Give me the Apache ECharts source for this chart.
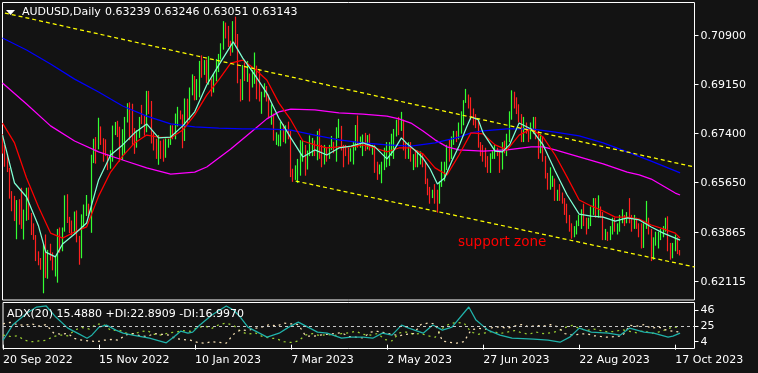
<!DOCTYPE html>
<html><head><meta charset="utf-8">
<script src="https://cdn.jsdelivr.net/npm/echarts@6/dist/echarts.min.js"></script>
<style>html,body{margin:0;padding:0;background:#131313;overflow:hidden}#c{width:758px;height:373px}</style>
</head><body><div id="c"></div>
<script>
// ---- data (prices in 1/10000, i.e. 6712 = 0.6712) ----
const symbolTitle = 'AUDUSD,Daily';
const startDate = [2022, 8, 20];          // 20 Sep 2022, first daily bar
const slotCount = 289;                     // bar slots on the time axis (incl. empty right margin)
const priceTicks = [0.62115, 0.63865, 0.65650, 0.67400, 0.69150, 0.70900];
const adxTicks = [4, 25, 46];
const adxLevel = 25;

const open = [
6712,6683,6628,6608,6521,6485,6436,6486,6462,6403,
6455,6525,6443,6388,6370,6300,6280,6270,6310,6235,
6318,6305,6260,6280,6395,6340,6395,6495,6435,6410,
6400,6425,6370,6300,6440,6478,6480,6455,6640,6700,
6695,6725,6720,6683,6665,6625,6660,6755,6765,6755,
6660,6745,6800,6810,6780,6710,6700,6740,6796,6795,
6780,6865,6850,6715,6705,6700,6715,6700,6665,6705,
6712,6755,6730,6800,6811,6800,6720,6858,6795,6892,
6930,6885,6900,6987,6970,6990,6925,6930,6910,6940,
7000,7020,7050,7120,7110,7065,7053,7140,7080,6925,
6880,6975,6944,6950,6913,6952,6966,6868,6865,6880,
6880,6870,6800,6810,6720,6725,6725,6770,6720,6750,
6730,6600,6590,6600,6620,6665,6690,6620,6670,6690,
6710,6680,6735,6660,6650,6680,6665,6690,6700,6685,
6745,6760,6695,6680,6675,6655,6670,6700,6765,6710,
6715,6715,6690,6725,6690,6690,6610,6600,6615,6615,
6640,6640,6700,6720,6740,6780,6770,6780,6690,6660,
6680,6650,6650,6630,6650,6650,6630,6560,6530,6520,
6530,6510,6500,6560,6610,6630,6690,6660,6720,6740,
6730,6770,6810,6860,6870,6840,6810,6800,6780,6700,
6680,6670,6640,6610,6660,6670,6680,6670,6620,6700,
6690,6720,6810,6870,6850,6830,6790,6720,6770,6750,
6730,6770,6790,6730,6690,6720,6652,6590,6560,6570,
6575,6520,6530,6510,6500,6460,6430,6410,6380,6400,
6420,6425,6460,6420,6410,6420,6460,6490,6450,6460,
6450,6370,6380,6370,6390,6430,6400,6410,6430,6432,
6430,6440,6430,6410,6430,6410,6380,6340,6410,6430,
6390,6310,6360,6362,6380,6390,6400,6430,6330,6300,
6340,6360,6323.9];
const high = [
6738,6700,6666,6618,6535,6518,6503,6506,6547,6469,
6547,6548,6457,6420,6378,6320,6296,6345,6380,6325,
6347,6316,6304,6400,6405,6405,6520,6524,6443,6430,
6462,6466,6375,6452,6487,6521,6490,6665,6722,6728,
6797,6766,6724,6720,6668,6681,6769,6782,6786,6765,
6756,6800,6849,6852,6847,6760,6753,6800,6843,6806,
6893,6893,6857,6745,6722,6735,6715,6720,6723,6722,
6770,6770,6812,6836,6823,6809,6866,6865,6905,6952,
6946,6935,7000,7020,7003,7005,7017,6937,6955,7007,
7025,7063,7142,7137,7125,7072,7142,7158,7096,6935,
6985,6995,7000,6955,6968,7030,6983,6970,6890,6920,
6910,6880,6845,6812,6745,6737,6783,6775,6770,6783,
6750,6615,6627,6650,6717,6715,6700,6680,6734,6725,
6716,6750,6758,6700,6700,6690,6700,6732,6711,6763,
6793,6768,6700,6700,6690,6688,6713,6771,6805,6730,
6737,6743,6735,6740,6700,6700,6640,6630,6640,6690,
6710,6710,6740,6757,6790,6800,6818,6790,6710,6710,
6710,6667,6680,6680,6677,6670,6640,6580,6550,6540,
6560,6540,6570,6640,6640,6700,6720,6730,6750,6750,
6780,6820,6860,6900,6880,6870,6830,6810,6790,6710,
6700,6690,6660,6670,6680,6700,6690,6680,6710,6715,
6740,6820,6895,6890,6870,6845,6810,6800,6780,6760,
6780,6800,6800,6750,6740,6730,6660,6600,6620,6590,
6580,6540,6560,6530,6510,6490,6450,6420,6410,6430,
6450,6470,6490,6440,6440,6480,6510,6510,6520,6480,
6460,6400,6390,6410,6440,6440,6420,6450,6470,6450,
6460,6510,6450,6450,6440,6420,6420,6420,6500,6440,
6400,6370,6390,6390,6400,6410,6440,6445,6350,6350,
6380,6370,6324.6];
const low = [
6669,6622,6603,6508,6463,6428,6363,6415,6400,6362,
6429,6432,6378,6361,6285,6270,6254,6170,6225,6222,
6287,6252,6230,6208,6315,6320,6390,6421,6385,6377,
6383,6352,6272,6295,6405,6446,6441,6386,6635,6633,
6684,6700,6640,6660,6610,6615,6640,6735,6728,6640,
6646,6666,6780,6717,6700,6668,6690,6725,6774,6733,
6745,6810,6705,6680,6650,6629,6650,6640,6654,6690,
6700,6720,6720,6766,6791,6688,6714,6773,6790,6877,
6859,6860,6870,6940,6950,6920,6915,6873,6887,6927,
6960,7005,7040,7080,7050,7018,7030,7060,6920,6855,
6860,6928,6925,6855,6905,6918,6863,6855,6811,6870,
6855,6795,6772,6715,6700,6695,6695,6710,6705,6720,
6585,6568,6575,6564,6590,6640,6590,6612,6660,6660,
6660,6645,6650,6620,6630,6640,6650,6682,6670,6640,
6725,6680,6620,6660,6630,6640,6630,6680,6690,6690,
6660,6678,6684,6680,6665,6600,6575,6595,6563,6610,
6620,6625,6660,6650,6730,6735,6750,6680,6650,6650,
6640,6610,6620,6620,6630,6620,6560,6520,6490,6510,
6490,6458,6490,6550,6570,6610,6640,6650,6700,6710,
6720,6740,6770,6850,6830,6790,6770,6760,6690,6660,
6640,6620,6600,6600,6650,6650,6660,6600,6612,6670,
6660,6710,6790,6830,6810,6780,6710,6710,6740,6710,
6720,6740,6720,6650,6670,6640,6580,6540,6540,6550,
6500,6500,6500,6490,6450,6420,6390,6365,6370,6380,
6410,6400,6410,6380,6400,6410,6450,6440,6440,6440,
6360,6360,6357,6360,6380,6390,6380,6390,6420,6410,
6420,6420,6390,6400,6400,6370,6330,6332,6400,6380,
6285,6290,6340,6330,6360,6370,6390,6320,6290,6295,
6320,6310,6305.1];
const close = [
6683,6628,6608,6521,6485,6436,6486,6462,6403,6455,
6525,6443,6388,6370,6300,6280,6270,6310,6235,6318,
6305,6260,6280,6395,6340,6395,6495,6435,6410,6400,
6425,6370,6300,6440,6478,6480,6455,6640,6700,6695,
6725,6720,6683,6665,6625,6660,6755,6765,6755,6660,
6745,6800,6810,6780,6710,6700,6740,6796,6795,6780,
6865,6850,6715,6705,6700,6715,6700,6665,6705,6712,
6755,6730,6800,6811,6800,6720,6858,6795,6892,6930,
6885,6900,6987,6970,6990,6925,6930,6910,6940,7000,
7020,7050,7120,7110,7065,7053,7140,7080,6925,6880,
6975,6944,6950,6913,6952,6966,6868,6865,6880,6880,
6870,6800,6810,6720,6725,6725,6770,6720,6750,6730,
6600,6590,6600,6620,6665,6690,6620,6670,6690,6710,
6680,6735,6660,6650,6680,6665,6690,6700,6685,6745,
6760,6695,6680,6675,6655,6670,6700,6765,6710,6715,
6715,6690,6725,6690,6690,6610,6600,6615,6615,6640,
6640,6700,6720,6740,6780,6770,6780,6690,6660,6680,
6650,6650,6630,6650,6650,6630,6560,6530,6520,6530,
6510,6500,6560,6610,6630,6690,6660,6720,6740,6730,
6770,6810,6860,6870,6840,6810,6800,6780,6700,6680,
6670,6640,6610,6660,6670,6680,6670,6620,6700,6690,
6720,6810,6870,6850,6830,6790,6720,6770,6750,6730,
6770,6790,6730,6690,6720,6652,6590,6560,6570,6575,
6520,6530,6510,6500,6460,6430,6410,6380,6400,6420,
6425,6460,6420,6410,6420,6460,6490,6450,6460,6450,
6370,6380,6370,6390,6430,6400,6410,6430,6432,6430,
6440,6430,6410,6430,6410,6380,6340,6410,6430,6390,
6310,6360,6362,6380,6390,6400,6430,6330,6300,6340,
6360,6324,6314.3];

// moving averages: [bar index, price]
const maFast = [[0,6735],[5,6564],[10,6514],[15,6410],[18,6317],[22,6300],[25,6346],[30,6382],[35,6421],[40,6575],[45,6664],[50,6700],[55,6743],[60,6775],[65,6725],[70,6728],[75,6768],[80,6818],[85,6914],[90,6985],[96,7068],[100,7010],[105,6950],[110,6885],[115,6796],[120,6725],[125,6657],[130,6682],[135,6664],[140,6689],[145,6696],[150,6707],[155,6693],[160,6650],[163,6682],[166,6725],[168,6707],[170,6693],[172,6678],[175,6653],[178,6614],[181,6560],[184,6582],[187,6642],[190,6696],[193,6760],[195,6800],[198,6790],[200,6743],[205,6678],[208,6675],[211,6700],[215,6778],[220,6757],[225,6700],[230,6607],[235,6521],[240,6453],[245,6446],[250,6442],[255,6428],[260,6439],[265,6432],[270,6407],[275,6385],[280,6367],[282,6360]];
const maMid = [[0,6778],[5,6707],[10,6582],[15,6478],[20,6385],[25,6367],[30,6389],[35,6407],[40,6517],[45,6603],[50,6660],[55,6707],[60,6735],[65,6728],[70,6725],[75,6753],[80,6807],[85,6878],[90,6932],[95,6992],[100,7003],[105,6971],[110,6932],[115,6850],[120,6789],[125,6714],[130,6700],[135,6689],[140,6693],[145,6693],[150,6700],[155,6689],[160,6675],[165,6689],[170,6689],[175,6668],[180,6618],[185,6593],[190,6664],[195,6743],[200,6739],[205,6700],[210,6682],[215,6735],[220,6757],[225,6728],[230,6664],[235,6585],[240,6503],[245,6482],[250,6464],[255,6442],[260,6442],[265,6435],[270,6414],[275,6400],[280,6385],[282,6367]];
const maSlow = [[0,7082],[10,7039],[20,6989],[30,6935],[40,6889],[50,6839],[60,6803],[70,6775],[80,6764],[90,6760],[100,6757],[110,6757],[120,6753],[130,6735],[140,6718],[150,6707],[160,6700],[170,6696],[180,6707],[190,6728],[195,6743],[200,6750],[210,6757],[220,6757],[230,6746],[240,6732],[250,6707],[260,6675],[270,6642],[280,6607],[282,6600]];
const maLong = [[0,6921],[10,6846],[20,6768],[30,6714],[40,6675],[50,6646],[60,6618],[70,6596],[80,6603],[85,6621],[90,6653],[95,6685],[100,6721],[105,6757],[110,6793],[115,6818],[120,6828],[130,6825],[140,6814],[150,6810],[160,6803],[165,6793],[170,6778],[175,6750],[180,6718],[185,6693],[190,6682],[200,6678],[210,6682],[220,6693],[225,6693],[230,6682],[240,6657],[250,6632],[260,6603],[265,6593],[270,6578],[275,6553],[280,6528],[282,6521]];

// trend channel anchors: [bar index, price]
const channelUpper = [[1,7171],[288,6621]];
const channelLower = [[122,6571],[288,6264]];

// ADX(20) panel
const adxMain = [[0,6.0],[4,26.4],[10,42.6],[14,50.7],[18,52.1],[22,37.2],[27,22.3],[31,15.5],[35,8.7],[37,12.8],[40,23.6],[43,26.4],[47,19.6],[50,15.5],[54,12.8],[61,8.7],[68,2.5],[71,10.1],[74,18.2],[77,15.5],[79,16.9],[82,26.4],[87,39.9],[93,52.1],[96,46.7],[99,36.5],[102,23.6],[106,16.9],[110,10.1],[115,15.5],[119,23.6],[123,30.4],[127,23.6],[131,16.9],[135,15.5],[141,8.7],[145,10.1],[150,10.1],[154,8.7],[158,15.5],[162,12.8],[166,26.4],[169,22.3],[175,15.5],[179,26.4],[183,19.6],[187,23.6],[194,50.7],[197,33.1],[202,19.6],[207,12.8],[212,8.7],[221,7.4],[227,6.0],[232,3.3],[236,10.1],[240,22.3],[245,16.9],[252,15.5],[257,12.8],[261,22.3],[267,16.9],[271,15.5],[277,10.1],[279,11.5],[282,15.488]];
// +DI / -DI, one value every 3 bars (index 0,3,6,...,282)
const plusDI = [13,11,12,6,4,5,6,11,13,12, 20,23,21,28,27,19,20,16,14,17, 19,14,13,16,17,19,18,23,25,22, 27,29,26,18,14,16,11,9,8,4, 3,5,13,15,12,14,12,15,16,18, 14,13,15,7,5,16,17,14,15,12, 10,22,28,30,29,17,14,16,18,15, 17,19,16,14,17,15,16,18,23,26, 22,19,21,19,17,18,20,18,16,19, 15,17,20,24,22.8909];
const minusDI = [28,30,27,26,28,25,27,16,14,15, 8,6,5,4,6,7,6,13,15,12, 11,15,14,13,8,7,6,3,2,4, 3,2,14,20,19,22,24,27,25,29, 28,27,12,11,13,14,15,16,11,10, 9,17,18,16,14,12,14,15,27,29, 28,5,3,2,4,20,22,21,23,24, 22,25,27,24,26,25,27,24,15,13, 14,15,12,11,10,11,12,26,25,27, 22,24,20,18,16.997];
const diStep = 3;
const noteText = 'support zone';

// ---- build ----
const MONTHS = ['Jan','Feb','Mar','Apr','May','Jun','Jul','Aug','Sep','Oct','Nov','Dec'];
const cats = [];
let d = new Date(Date.UTC(startDate[0], startDate[1], startDate[2]));
while (cats.length < slotCount) {
  const wd = d.getUTCDay();
  if (wd !== 0 && wd !== 6) cats.push(d.getUTCDate() + ' ' + MONTHS[d.getUTCMonth()] + ' ' + d.getUTCFullYear());
  d = new Date(d.getTime() + 86400000);
}
const P = v => v / 10000;
const pp = arr => arr.map(([i, v]) => [i, P(v)]);
const candles = open.map((o, i) => [P(o), P(close[i]), P(low[i]), P(high[i])]);
const last = open.length - 1;
const FONT = 'DejaVu Sans';
const UP = '#33ff33', DOWN = '#ff2020';
const LW = 1.25;

const lineS = (data, color, xi, extra) => Object.assign({
  type: 'line', data, xAxisIndex: xi, yAxisIndex: xi, symbol: 'none', silent: true,
  smooth: false, lineStyle: { color, width: LW }
}, extra || {});

const chart = echarts.init(document.getElementById('c'), null, { renderer: 'canvas', width: 758, height: 373 });
chart.setOption({
  animation: false,
  backgroundColor: '#131313',
  grid: [
    { left: 2.5, top: 2.5, width: 692, height: 297.5, show: true, borderColor: '#ffffff', borderWidth: 1, backgroundColor: 'transparent' },
    { left: 2.5, top: 302.5, width: 692, height: 46, show: true, borderColor: '#ffffff', borderWidth: 1, backgroundColor: 'transparent' }
  ],
  xAxis: [
    { type: 'category', gridIndex: 0, data: cats, boundaryGap: false,
      axisLine: { show: false }, axisTick: { show: false }, axisLabel: { show: false }, splitLine: { show: false } },
    { type: 'category', gridIndex: 1, data: cats, boundaryGap: false,
      axisLine: { show: false },
      axisTick: { show: true, interval: 39, length: 5, lineStyle: { color: '#ffffff' } },
      axisLabel: { show: true, interval: 39, align: 'left', color: '#ffffff', fontFamily: FONT, fontSize: 11, margin: 6 },
      splitLine: { show: false } }
  ],
  yAxis: [
    { type: 'value', gridIndex: 0, position: 'right', min: 0.614607, max: 0.720857,
      axisLine: { show: false }, splitLine: { show: false },
      axisTick: { show: true, customValues: priceTicks, length: 4, lineStyle: { color: '#ffffff' } },
      axisLabel: { show: true, customValues: priceTicks, formatter: v => v.toFixed(5), color: '#ffffff', fontFamily: FONT, fontSize: 11, margin: 6 } },
    { type: 'value', gridIndex: 1, position: 'right', min: -5.15, max: 56.77,
      axisLine: { show: false }, splitLine: { show: false },
      axisTick: { show: true, customValues: adxTicks, length: 4, lineStyle: { color: '#ffffff' } },
      axisLabel: { show: true, customValues: adxTicks, formatter: v => String(v), color: '#ffffff', fontFamily: FONT, fontSize: 11, margin: 6 } }
  ],
  series: [
    { type: 'candlestick', xAxisIndex: 0, yAxisIndex: 0, data: candles, barWidth: 1.2, silent: true,
      itemStyle: { color: UP, color0: DOWN, borderColor: UP, borderColor0: DOWN, borderWidth: 1.2 },
      markLine: { silent: true, symbol: ['none', 'none'], lineStyle: { opacity: 0 },
        label: { show: true, position: 'end', distance: 1, formatter: P(close[last]).toFixed(5),
          color: '#000000', backgroundColor: '#ffffff', fontFamily: FONT, fontSize: 11, padding: [1, 6, 1, 5] },
        data: [{ yAxis: P(close[last]) }] } },
    lineS(pp(maLong), '#ff00ff', 0),
    lineS(pp(maSlow), '#0000ff', 0),
    lineS(pp(maMid), '#ff0000', 0),
    lineS(pp(maFast), '#7fffd4', 0),
    lineS(pp(channelUpper), '#ffff00', 0, { lineStyle: { color: '#ffff00', width: LW, type: [4, 3] } }),
    lineS(pp(channelLower), '#ffff00', 0, { lineStyle: { color: '#ffff00', width: LW, type: [4, 3] } }),
    lineS(plusDI.map((v, k) => [k * diStep, v]), '#9acd32', 1, { lineStyle: { color: '#9acd32', width: LW, type: [2, 4] } }),
    lineS(minusDI.map((v, k) => [k * diStep, v]), '#f5deb3', 1, { lineStyle: { color: '#f5deb3', width: LW, type: [2, 4] } }),
    lineS(adxMain, '#20b2aa', 1, {
      markLine: { silent: true, symbol: ['none', 'none'], label: { show: false },
        lineStyle: { color: '#c8c8c8', width: 1, type: [3, 3] }, data: [{ yAxis: adxLevel }] } })
  ],
  graphic: [
    { type: 'polygon', shape: { points: [[6, 10], [15, 10], [10.5, 15]] }, style: { fill: '#ffffff' }, z: 100 },
    { type: 'text', x: 22, y: 12, z: 100, style: { text: symbolTitle, fill: '#ffffff', fontFamily: FONT, fontSize: 11, align: 'left', verticalAlign: 'middle' } },
    { type: 'text', x: 105, y: 12, z: 100, style: { text: [open[last], high[last], low[last], close[last]].map(v => P(v).toFixed(5)).join(' '), fill: '#ffffff', fontFamily: FONT, fontSize: 11, align: 'left', verticalAlign: 'middle' } },
    { type: 'text', x: 7, y: 314, z: 100, style: { text: 'ADX(20) ' + adxMain[adxMain.length - 1][1].toFixed(4) + ' +DI:' + plusDI[plusDI.length - 1].toFixed(4) + ' -DI:' + minusDI[minusDI.length - 1].toFixed(4), fill: '#ffffff', fontFamily: FONT, fontSize: 11, align: 'left', verticalAlign: 'middle' } },
    { type: 'text', x: 458, y: 242, z: 100, style: { text: noteText, fill: '#ff0000', fontFamily: FONT, fontSize: 13.5, align: 'left', verticalAlign: 'middle' } }
  ]
});
</script>
</body></html>
